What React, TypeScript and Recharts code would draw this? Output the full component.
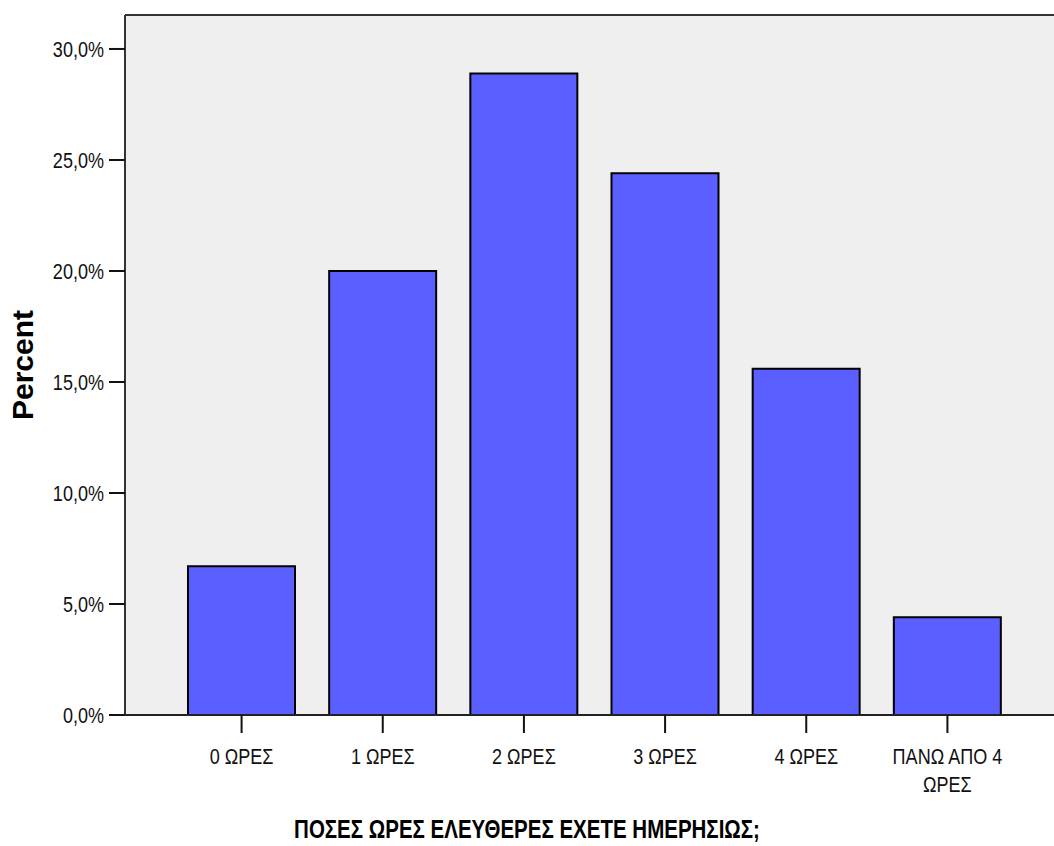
import { BarChart, Bar, XAxis, YAxis, CartesianGrid, ReferenceLine, Label } from 'recharts'

const categories = ['0 ΩΡΕΣ', '1 ΩΡΕΣ', '2 ΩΡΕΣ', '3 ΩΡΕΣ', '4 ΩΡΕΣ', 'ΠΑΝΩ ΑΠΟ 4 ΩΡΕΣ']
const percents = [6.7, 20.0, 28.9, 24.4, 15.6, 4.4]
const yTicks = [0, 5, 10, 15, 20, 25, 30]
const tickLines: Record<string, string[]> = {
  'ΠΑΝΩ ΑΠΟ 4 ΩΡΕΣ': ['ΠΑΝΩ ΑΠΟ 4', 'ΩΡΕΣ'],
}

const Y_MAX = 31.53
const font = "'Liberation Sans', Arial, sans-serif"
// the source text is squeezed sideways, so labels get a horizontal scale
const SQUEEZE = 0.82

const data = categories.map((c, i) => ({ name: c, value: percents[i] }))

const fmtPct = (v: number) => `${v.toFixed(1).replace('.', ',')}%`

function XTick({ x, y, payload }: any) {
  const lines = tickLines[payload.value] ?? [payload.value]
  return (
    <g transform={`translate(${x},${y}) scale(${SQUEEZE},1)`}>
      <text x={0} y={0} textAnchor="middle" fontFamily={font} fontSize={22} fill="#111">
        {lines.map((l, i) => (
          <tspan key={i} x={0} dy={i === 0 ? 29 : 28}>
            {l}
          </tspan>
        ))}
      </text>
    </g>
  )
}

function YTick({ x, y, payload }: any) {
  return (
    <g transform={`translate(${x},${y}) scale(${SQUEEZE},1)`}>
      <text x={0} y={0} dy="0.36em" textAnchor="end" fontFamily={font} fontSize={22} fill="#111">
        {fmtPct(payload.value)}
      </text>
    </g>
  )
}

export default function App() {
  return (
    <div style={{ position: 'absolute', left: 0, top: 0, width: 1054, height: 846, background: '#fff' }}>
      <BarChart width={1054} height={846} data={data} margin={{ top: 15, right: 0, left: 0, bottom: 0 }}>
        <CartesianGrid horizontal={false} vertical={false} fill="#EFEFEF" />
        <XAxis
          dataKey="name"
          height={131}
          padding={{ left: 46, right: 36 }}
          axisLine={{ stroke: '#222', strokeWidth: 2 }}
          tickLine={{ stroke: '#111', strokeWidth: 2 }}
          tickSize={18}
          tick={<XTick />}
          interval={0}
        >
          <Label
            content={() => (
              <g transform={`translate(527,838) scale(${SQUEEZE},1)`}>
                <text x={0} y={0} textAnchor="middle" fontFamily={font} fontWeight="bold" fontSize={25} fill="#000">
                  ΠΟΣΕΣ ΩΡΕΣ ΕΛΕΥΘΕΡΕΣ ΕΧΕΤΕ ΗΜΕΡΗΣΙΩΣ;
                </text>
              </g>
            )}
          />
        </XAxis>
        <YAxis
          width={125}
          domain={[0, Y_MAX]}
          ticks={yTicks}
          axisLine={{ stroke: '#333', strokeWidth: 2 }}
          tickLine={{ stroke: '#111', strokeWidth: 2 }}
          tickSize={16}
          tickMargin={5}
          tick={<YTick />}
        >
          <Label
            content={() => (
              <text
                x={22}
                y={365}
                transform="rotate(-90, 22, 365)"
                textAnchor="middle"
                dominantBaseline="central"
                fontFamily={font}
                fontWeight="bold"
                fontSize={30}
                fill="#000"
              >
                Percent
              </text>
            )}
          />
        </YAxis>
        <ReferenceLine y={Y_MAX} stroke="#333" strokeWidth={2} />
        <Bar dataKey="value" fill="#5B5FFF" stroke="#000" strokeWidth={2} barSize={107} isAnimationActive={false} />
      </BarChart>
    </div>
  )
}
